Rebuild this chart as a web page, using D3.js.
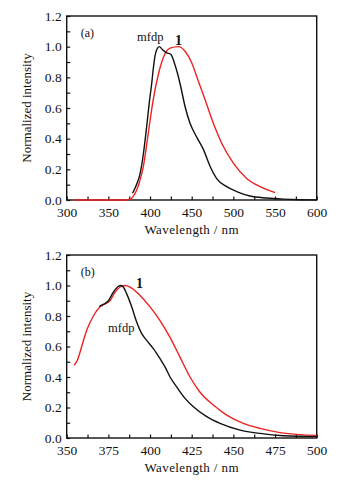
<!DOCTYPE html>
<html>
<head>
<meta charset="utf-8">
<script src="https://cdn.jsdelivr.net/npm/d3@7"></script>
<style>
  body { margin: 0; background: #fff; }
  svg { display: block; font-family: "Liberation Serif", "DejaVu Serif", serif; }
</style>
</head>
<body>
<svg id="chart" width="350" height="494"></svg>
<script>
// panel (a) - mfdp (black)
const aMfdpX = [379, 383, 388, 392, 396, 399, 402, 404, 406, 408, 411, 415, 420, 425, 430, 436, 442, 448, 456, 464, 472, 480, 492, 504, 520, 540, 560, 580, 600];
const aMfdpY = [0.044, 0.09, 0.17, 0.30, 0.48, 0.63, 0.76, 0.86, 0.94, 0.98, 1.0, 0.98, 0.96, 0.95, 0.88, 0.76, 0.61, 0.50, 0.41, 0.33, 0.22, 0.14, 0.087, 0.055, 0.026, 0.013, 0.006, 0.002, 0.0];
// panel (a) - compound 1 (red)
const aOneX = [308, 340, 370, 376, 380, 384, 388, 392, 398, 404, 410, 416, 424, 434, 442, 450, 458, 466, 476, 486, 500, 516, 532, 550];
const aOneY = [0.0, 0.0, 0.0, 0.005, 0.025, 0.065, 0.13, 0.22, 0.44, 0.66, 0.82, 0.93, 0.99, 1.0, 0.97, 0.895, 0.775, 0.655, 0.50, 0.37, 0.24, 0.14, 0.087, 0.048];
// panel (b) - mfdp (black)
const bMfdpX = [369.6, 372, 375, 378, 381, 382.4, 384, 386, 389, 392, 395, 398, 402, 406, 409, 412, 416, 421, 426, 434, 442, 454, 466, 480, 500];
const bMfdpY = [0.863, 0.876, 0.90, 0.956, 0.995, 1.0, 0.99, 0.945, 0.86, 0.76, 0.684, 0.64, 0.586, 0.52, 0.466, 0.40, 0.335, 0.26, 0.205, 0.14, 0.096, 0.052, 0.03, 0.015, 0.009];
// panel (b) - compound 1 (red)
const bOneX = [354.4, 356.4, 359, 362, 366, 370, 373, 376, 379, 382, 385, 388, 394, 400, 406, 412, 418, 424, 430, 438, 446, 456, 466, 478, 490, 500];
const bOneY = [0.477, 0.51, 0.60, 0.706, 0.80, 0.86, 0.88, 0.90, 0.956, 0.99, 1.0, 0.99, 0.935, 0.86, 0.77, 0.66, 0.53, 0.40, 0.30, 0.216, 0.15, 0.096, 0.063, 0.035, 0.022, 0.017];

const yTicks = [0, 0.2, 0.4, 0.6, 0.8, 1.0, 1.2];
const aXTicks = [300, 350, 400, 450, 500, 550, 600];
const bXTicks = [350, 375, 400, 425, 450, 475, 500];

const svg = d3.select("#chart");

function panel({ top, bottom, xDomain, xTicks, xMinor, tag, series, labels }) {
  const left = 66.7, right = 316.7;
  const x = d3.scaleLinear(xDomain, [left, right]);
  const y = d3.scaleLinear([0, 1.2], [bottom, top]);
  const g = svg.append("g");

  // ticks inward, bottom + left only
  const xMinorTicks = d3.range(xDomain[0], xDomain[1] + 0.001, xMinor);
  g.append("g")
    .attr("transform", `translate(0,${bottom})`)
    .call(d3.axisBottom(x).tickValues(xMinorTicks).tickSize(-3.5).tickFormat(""))
    .call(a => a.select(".domain").remove())
    .call(a => a.selectAll("line").attr("stroke", "#111").attr("stroke-width", 1.2));
  g.append("g")
    .attr("transform", `translate(0,${bottom})`)
    .call(d3.axisBottom(x).tickValues(xTicks).tickSize(0).tickPadding(7).tickFormat(d3.format("d")))
    .call(a => a.select(".domain").remove())
    .call(a => a.selectAll("text").attr("font-size", 13.5).attr("fill", "#111")
      .attr("font-family", "Liberation Serif"));

  g.append("g")
    .attr("transform", `translate(${left},0)`)
    .call(d3.axisLeft(y).tickValues(d3.range(0, 1.21, 0.1)).tickSize(-3.5).tickFormat(""))
    .call(a => a.select(".domain").remove())
    .call(a => a.selectAll("line").attr("stroke", "#111").attr("stroke-width", 1.2));
  g.append("g")
    .attr("transform", `translate(${left},0)`)
    .call(d3.axisLeft(y).tickValues(yTicks).tickSize(0).tickPadding(5).tickFormat(d3.format(".1f")))
    .call(a => a.select(".domain").remove())
    .call(a => a.selectAll("text").attr("font-size", 13.5).attr("fill", "#111")
      .attr("font-family", "Liberation Serif"));

  // frame
  g.append("rect")
    .attr("x", left).attr("y", top)
    .attr("width", right - left).attr("height", bottom - top)
    .attr("fill", "none").attr("stroke", "#111").attr("stroke-width", 1.4);

  const line = d3.line().x(d => x(d[0])).y(d => y(d[1])).curve(d3.curveMonotoneX);
  series.forEach(s => {
    g.append("path")
      .datum(d3.zip(s.xs, s.ys))
      .attr("d", line)
      .attr("fill", "none")
      .attr("stroke", s.color)
      .attr("stroke-width", 1.4);
  });

  // axis titles
  g.append("text")
    .attr("x", (left + right) / 2)
    .attr("y", bottom + 34)
    .attr("text-anchor", "middle")
    .attr("font-size", 13)
    .attr("fill", "#111")
    .attr("letter-spacing", 0.4)
    .text("Wavelength / nm");
  g.append("text")
    .attr("transform", `translate(31,${(top + bottom) / 2}) rotate(-90)`)
    .attr("text-anchor", "middle")
    .attr("font-size", 13)
    .attr("fill", "#111")
    .text("Normalized intensity");

  g.append("text")
    .attr("x", left + 14).attr("y", top + 21)
    .attr("font-size", 12).attr("fill", "#111")
    .text(tag);

  labels.forEach(l => {
    g.append("text")
      .attr("x", l.x).attr("y", l.y)
      .attr("font-size", l.bold ? 14 : 12.5)
      .attr("font-weight", l.bold ? "bold" : "normal")
      .attr("fill", "#111")
      .text(l.text);
  });
}

panel({
  top: 16, bottom: 200,
  xDomain: [300, 600], xTicks: aXTicks, xMinor: 25, tag: "(a)",
  series: [
    { xs: aOneX, ys: aOneY, color: "#ee2222" },
    { xs: aMfdpX, ys: aMfdpY, color: "#111" }
  ],
  labels: [
    { x: 137, y: 41, text: "mfdp" },
    { x: 175, y: 45, text: "1", bold: true }
  ]
});

panel({
  top: 255, bottom: 438,
  xDomain: [350, 500], xTicks: bXTicks, xMinor: 12.5, tag: "(b)",
  series: [
    { xs: bOneX, ys: bOneY, color: "#ee2222" },
    { xs: bMfdpX, ys: bMfdpY, color: "#111" }
  ],
  labels: [
    { x: 108, y: 332, text: "mfdp" },
    { x: 136, y: 288, text: "1", bold: true }
  ]
});
</script>
</body>
</html>
